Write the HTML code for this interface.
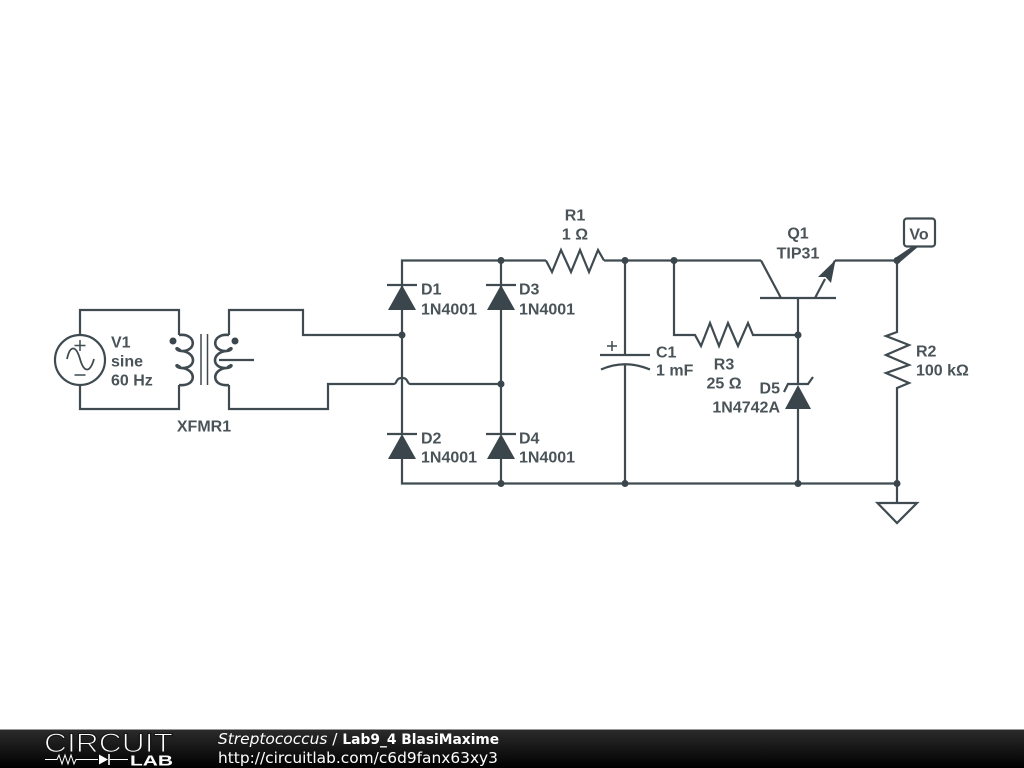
<!DOCTYPE html>
<html><head><meta charset="utf-8"><style>
html,body{margin:0;padding:0;background:#fff;width:1024px;height:768px;overflow:hidden}
svg{display:block}
.w{fill:none;stroke:#3f4b50;stroke-width:2.2;stroke-linejoin:miter}
.c{fill:none;stroke:#3f4b50;stroke-width:2.6}
.t{fill:none;stroke:#3f4b50;stroke-width:1.5}
.f{fill:#3a464b}
.l{font:bold 16px "Liberation Sans",sans-serif;fill:#4a5458}
.m{text-anchor:middle}.e{text-anchor:end}
</style></head><body>
<svg width="1024" height="768" viewBox="0 0 1024 768" xmlns="http://www.w3.org/2000/svg">
<defs><linearGradient id="g" x1="0" y1="0" x2="0" y2="1"><stop offset="0" stop-color="#2c2c2c"/><stop offset="1" stop-color="#000"/></linearGradient></defs>

<!-- source -->
<path class="w" d="M80 335V310H179V335M80 385V409H179V385"/>
<circle class="w" cx="80" cy="360" r="25"/>
<path class="t" d="M80 340V351M74.500 345.500H85.500M74.500 375H85.500"/>
<path class="w" style="stroke-width:1.800" d="M67 359C70 345 76 345 80 359C84 373 90 373 94 359"/>
<!-- transformer -->
<path class="c" d="M179 335C197 333 197 352 181 351C175 350.500 175 345 181 351C197 352 197 369 181 368C175 367.500 175 362 181 368C197 369 197 387 179 385"/>
<path class="c" d="M229 335C211 333 211 352 227 351C233 350.500 233 345 227 351C211 352 211 369 227 368C233 367.500 233 362 227 368C211 369 211 387 229 385"/>
<path class="t" d="M201 334V385M207.500 334V385"/>
<circle class="f" cx="173" cy="341" r="3.500"/><circle class="f" cx="235" cy="341" r="3.500"/>
<path class="w" d="M219 360H254"/>
<path class="w" d="M229 335V310H303V335H402M229 385V409H328V384H393C396 384 396 382 397 380.500C399 377 405 377 407 380.500C408 382 408 384 411 384H501"/>
<!-- bridge -->
<path class="w" d="M402 285V260.500H546M604 260.500H761M835 260.500H897M402 285V434M402 459V483.500H897M501 260.500V434M501 459V483.500"/>
<path class="w" d="M387 285H417M486 285H516M387 434H417M486 434H516"/>
<path class="f" d="M402 285L416 310H388ZM501 285L515 310H487ZM402 434L416 459H388ZM501 434L515 459H487Z"/>
<path class="w" d="M546 260.500L552 272L561 250L571 272L580 250L589 272L598 250L604 260.500"/>
<!-- capacitor -->
<path class="w" d="M625 260.500V355M625 364V483.500M600 355H650"/>
<path class="w" d="M601 369.500Q625 359 650 369.500"/>
<path class="t" d="M612 341V351M607 346H617"/>
<!-- R3 -->
<path class="w" d="M674 260.500V335H695L701 346L710 323L719 346L728 323L738 346L748 323L753 335H798"/>
<!-- transistor -->
<path class="w" d="M761 260.500L781 298M760 298H836M815 298L825 279"/>
<path class="w" d="M835 260.500L830 270"/>
<path class="w" d="M798 298V384M798 409V483.500"/>
<path class="f" d="M835.500 260L831 283L825.500 277L818 277Z"/>
<!-- zener -->
<path class="w" d="M784 392L788 384H808L813 377"/>
<path class="f" d="M798 385L811 409H785Z"/>
<!-- R2 -->
<path class="w" d="M897 260.500V332L886 336L909 345L886 355L909 365L886 373L909 383L897 388V503"/>
<path class="w" d="M877.500 503H917L897 523Z"/>
<!-- Vo -->
<rect class="w" x="904" y="218.500" width="31" height="28" rx="3"/>
<path class="f" d="M895 258L913 246H919L899 263Z"/>
<!-- dots -->
<g class="f">
<circle cx="402" cy="335" r="3.500"/><circle cx="501" cy="260.500" r="3.500"/><circle cx="501" cy="384" r="3.500"/><circle cx="501" cy="483.500" r="3.500"/>
<circle cx="625" cy="260.500" r="3.500"/><circle cx="625" cy="483.500" r="3.500"/><circle cx="674" cy="260.500" r="3.500"/>
<circle cx="798" cy="335" r="3.500"/><circle cx="798" cy="483.500" r="3.500"/><circle cx="897" cy="260.500" r="3.500"/><circle cx="897" cy="483.500" r="3.500"/>
</g>
<!-- labels -->
<g transform="translate(0,0.7)">
<text class="l" x="111" y="347">V1</text><text class="l" x="111" y="366">sine</text><text class="l" x="111" y="385">60 Hz</text>
<text class="l m" x="204" y="431">XFMR1</text>
<text class="l" x="421" y="294">D1</text><text class="l" x="421" y="314">1N4001</text>
<text class="l" x="519" y="294">D3</text><text class="l" x="519" y="314">1N4001</text>
<text class="l" x="421" y="443">D2</text><text class="l" x="421" y="462">1N4001</text>
<text class="l" x="519" y="443">D4</text><text class="l" x="519" y="462">1N4001</text>
<text class="l m" x="575" y="220">R1</text><text class="l m" x="575" y="239">1 Ω</text>
<text class="l" x="656" y="357">C1</text><text class="l" x="656" y="375">1 mF</text>
<text class="l m" x="724" y="369">R3</text><text class="l m" x="724" y="388">25 Ω</text>
<text class="l e" x="780" y="393">D5</text><text class="l e" x="780" y="412">1N4742A</text>
<text class="l m" x="798" y="238">Q1</text><text class="l m" x="798" y="258">TIP31</text>
<text class="l" x="916" y="356">R2</text><text class="l" x="916" y="375">100 kΩ</text>
<text class="l m" x="919" y="239">Vo</text>
</g>
<!-- footer -->
<rect x="0" y="729" width="1024" height="39" fill="url(#g)"/>
<rect x="0" y="729" width="1024" height="1" fill="#999"/>
<text x="44" y="752" font-family="Liberation Sans,sans-serif" font-size="26.500" fill="#fff" stroke="#161616" stroke-width="1.100" textLength="129" lengthAdjust="spacingAndGlyphs">CIRCUIT</text>
<path d="M45 759.500H57L59 755L62 764L65 755L68 764L71 755L74 764L76 759.500H98M110 759.500H128" fill="none" stroke="#fff" stroke-width="1"/>
<path d="M99 754.500L108 759.500L99 764.500Z" fill="#fff"/><path d="M109 754V765" stroke="#fff" stroke-width="1.600"/>
<text x="130" y="765.500" font-family="Liberation Sans,sans-serif" font-weight="bold" font-size="15" fill="#fff" textLength="43" lengthAdjust="spacingAndGlyphs">LAB</text>
<text x="218" y="744" font-family="DejaVu Sans,sans-serif" font-size="15.400" fill="#fff"><tspan font-style="italic">Streptococcus</tspan> / <tspan font-weight="bold" font-size="13.800">Lab9_4 BlasiMaxime</tspan></text>
<text x="218" y="763" font-family="DejaVu Sans,sans-serif" font-size="15.400" fill="#fff">http://circuitlab.com/c6d9fanx63xy3</text>
</svg>
</body></html>
